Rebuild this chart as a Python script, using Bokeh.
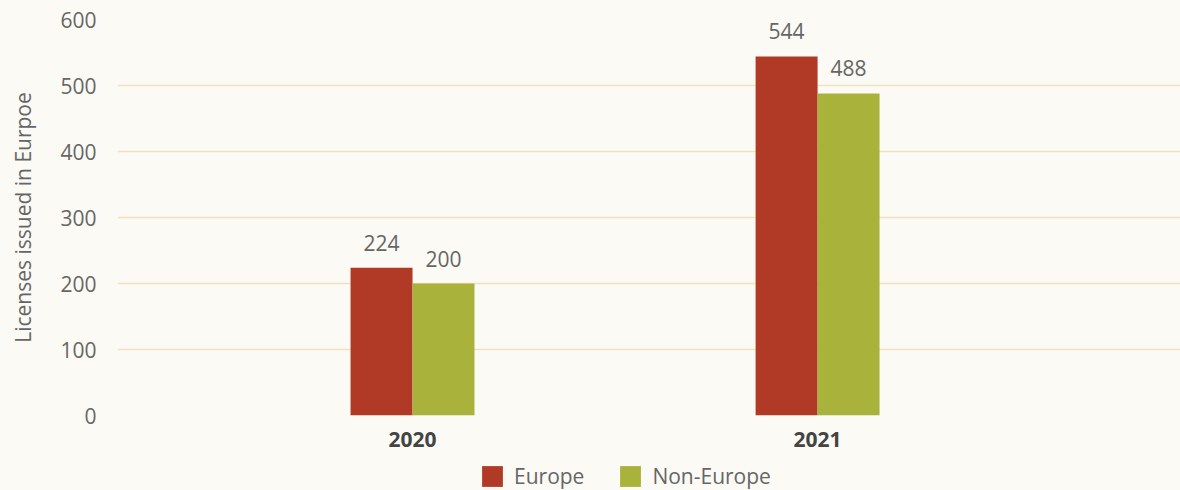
from bokeh.plotting import figure
from bokeh.models import ColumnDataSource, FixedTicker, Legend, LegendItem, LabelSet
from bokeh.core.properties import value
from bokeh.layouts import column
from bokeh.transform import dodge
from bokeh.embed import file_html
from bokeh.resources import INLINE

years = [2020, 2021]
europe = [224, 544]
non_europe = [200, 488]
series_names = ["Europe", "Non-Europe"]
colors = ["#B03A26", "#A9B23A"]
y_ticks = [0, 100, 200, 300, 400, 500, 600]

BG = "#FBFAF5"
FONT = "Open Sans"
FS = "21px"

src = ColumnDataSource(dict(
    year=years, europe=europe, non_europe=non_europe,
    europe_lbl=[str(v) for v in europe], non_europe_lbl=[str(v) for v in non_europe],
))

p = figure(width=1180, height=455, output_backend="svg", toolbar_location=None,
           x_range=(2019.2716, 2021.896), y_range=(0, 600),
           background_fill_color=BG, border_fill_color=BG,
           min_border_left=117, min_border_top=19, min_border_right=0, min_border_bottom=40)
p.outline_line_color = None

bw = 0.153
r1 = p.vbar(x=dodge("year", -bw / 2), top="europe", width=bw, source=src,
            fill_color=colors[0], line_color=None)
r2 = p.vbar(x=dodge("year", bw / 2), top="non_europe", width=bw, source=src,
            fill_color=colors[1], line_color=None)

for col, lbl, off in [("europe", "europe_lbl", -bw / 2), ("non_europe", "non_europe_lbl", bw / 2)]:
    ls = LabelSet(x=dodge("year", off), y=col, text=lbl, source=src,
                  text_align="center", text_baseline="bottom", y_offset=17,
                  text_font=value(FONT), text_font_size=FS, text_color="#666666")
    p.add_layout(ls)

p.xaxis.ticker = FixedTicker(ticks=years)
p.xaxis.axis_line_color = None
p.xaxis.major_tick_line_color = None
p.xaxis.minor_tick_line_color = None
p.xaxis.major_label_text_font = FONT
p.xaxis.major_label_text_font_style = "bold"
p.xaxis.major_label_text_font_size = FS
p.xaxis.major_label_text_color = "#444444"
p.xaxis.major_label_standoff = 10

p.yaxis.ticker = FixedTicker(ticks=y_ticks)
p.yaxis.axis_line_color = None
p.yaxis.major_tick_line_color = None
p.yaxis.minor_tick_line_color = None
p.yaxis.major_label_text_font = FONT
p.yaxis.major_label_text_font_size = FS
p.yaxis.major_label_text_color = "#666666"
p.yaxis.major_label_standoff = 15
p.yaxis.axis_label = "Licenses issued in Eurpoe"
p.yaxis.axis_label_text_font = FONT
p.yaxis.axis_label_text_font_style = "normal"
p.yaxis.axis_label_text_font_size = FS
p.yaxis.axis_label_text_color = "#666666"
p.yaxis.axis_label_standoff = 20

p.xgrid.grid_line_color = None
p.ygrid.grid_line_color = "#EEE3BE"
p.ygrid.grid_line_width = 1.5

# legend strip below the chart (its renderers lie outside its ranges, so only the legend shows)
lg = figure(width=1180, height=35, output_backend="svg", toolbar_location=None,
            x_range=(0, 1), y_range=(0, 1),
            background_fill_color=BG, border_fill_color=BG,
            min_border_left=0, min_border_top=0, min_border_right=0, min_border_bottom=0)
lg.outline_line_color = None
lg.axis.visible = False
lg.grid.visible = False
l1 = lg.vbar(x="year", top="europe", width=bw, source=src, fill_color=colors[0], line_color=None)
l2 = lg.vbar(x="year", top="non_europe", width=bw, source=src, fill_color=colors[1], line_color=None)

legend = Legend(items=[LegendItem(label=series_names[0], renderers=[l1]),
                       LegendItem(label=series_names[1], renderers=[l2])],
                orientation="horizontal", location=(362, 0),
                background_fill_color=BG, background_fill_alpha=0, border_line_color=None,
                glyph_width=26, glyph_height=26, label_standoff=9, spacing=33,
                padding=0, margin=0,
                label_text_font=FONT, label_text_font_size=FS, label_text_color="#666666")
lg.add_layout(legend)

layout = column(p, lg, spacing=0)
html = file_html(layout, INLINE)
html = html.replace("</head>", "<style>html,body{background:%s;}</style></head>" % BG, 1)
open("out.html", "w").write(html)
